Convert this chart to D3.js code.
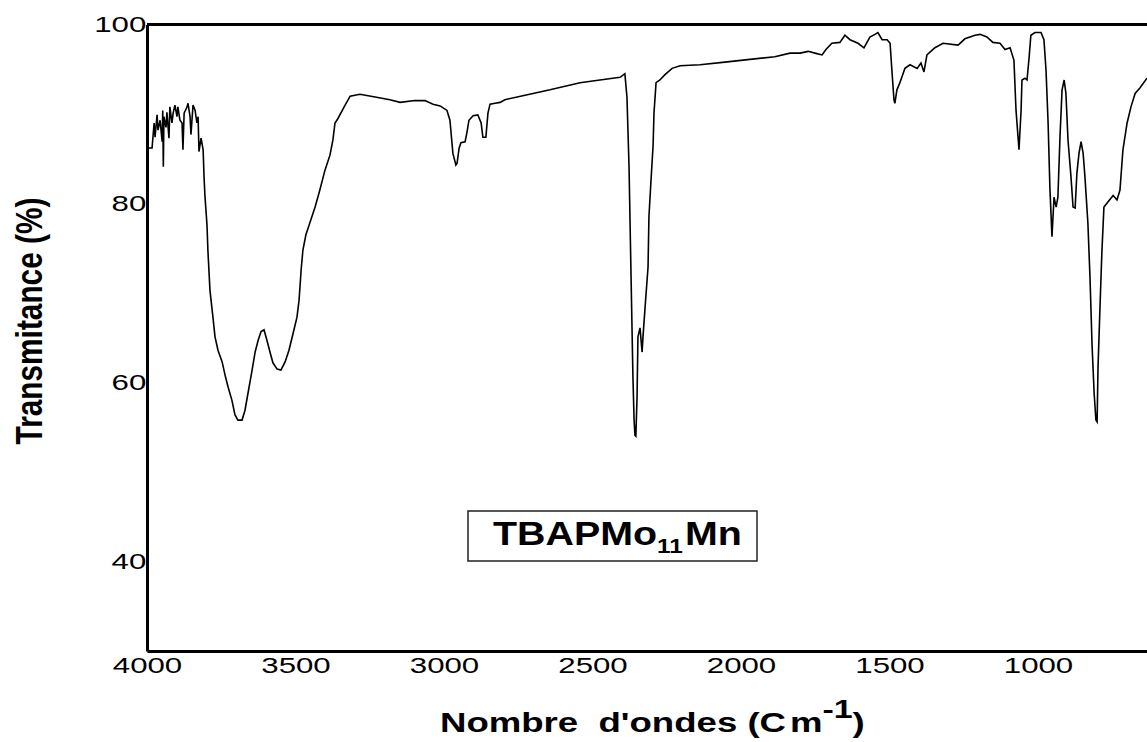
<!DOCTYPE html>
<html lang="fr">
<head>
<meta charset="UTF-8">
<title>TBAPMo11Mn IR</title>
<script src="https://d3js.org/d3.v7.min.js"></script>
<style>
  body { margin: 0; background: #fff; }
  svg { display: block; font-family: "Liberation Sans", Arial, sans-serif; }
</style>
</head>
<body>
<svg width="1147" height="742"></svg>
<script>
// wavenumbers (cm-1) and transmittance (%)
const wavenumber = [4000, 3998, 3983, 3976, 3973, 3966, 3963, 3956, 3949, 3947, 3945, 3943, 3936, 3933, 3926, 3923, 3916, 3912, 3906, 3899, 3896, 3889, 3882, 3879, 3875, 3865, 3862, 3855, 3852, 3845, 3838, 3832, 3828, 3825, 3818, 3811, 3808, 3805, 3798, 3795, 3788, 3778, 3771, 3761, 3747, 3737, 3727, 3714, 3704, 3694, 3680, 3670, 3660, 3646, 3636, 3626, 3616, 3606, 3596, 3586, 3576, 3562, 3549, 3535, 3522, 3508, 3495, 3488, 3481, 3475, 3465, 3451, 3434, 3418, 3401, 3384, 3374, 3367, 3357, 3333, 3316, 3283, 3232, 3182, 3148, 3098, 3064, 3037, 3013, 2990, 2980, 2970, 2960, 2956, 2949, 2943, 2929, 2923, 2916, 2902, 2886, 2875, 2869, 2859, 2852, 2845, 2828, 2811, 2795, 2727, 2643, 2542, 2475, 2407, 2391, 2384, 2377, 2370, 2364, 2360, 2357, 2354, 2350, 2347, 2340, 2333, 2330, 2323, 2313, 2310, 2303, 2296, 2293, 2286, 2273, 2256, 2232, 2205, 2138, 2054, 1970, 1886, 1835, 1801, 1774, 1751, 1727, 1714, 1694, 1667, 1650, 1633, 1606, 1586, 1566, 1549, 1539, 1525, 1508, 1498, 1492, 1485, 1482, 1475, 1465, 1448, 1431, 1407, 1394, 1384, 1374, 1347, 1320, 1269, 1246, 1212, 1195, 1172, 1152, 1128, 1111, 1094, 1081, 1074, 1064, 1057, 1054, 1044, 1037, 1030, 1024, 1010, 990, 980, 973, 966, 960, 953, 946, 939, 933, 926, 919, 912, 906, 899, 889, 882, 875, 869, 862, 855, 848, 842, 832, 825, 818, 811, 805, 801, 798, 791, 785, 778, 764, 747, 734, 724, 714, 700, 687, 673, 657, 633];
const transmittance = [83.4, 86.2, 86.2, 89.0, 87.4, 89.9, 88.2, 89.3, 86.9, 90.4, 84.1, 89.7, 88.5, 90.2, 87.3, 90.8, 89.0, 90.1, 91.0, 89.7, 90.8, 89.3, 89.0, 86.0, 90.1, 90.8, 91.2, 89.7, 87.7, 91.0, 90.4, 89.0, 89.7, 85.8, 87.3, 86.0, 83.0, 80.9, 77.6, 74.8, 70.3, 67.3, 65.1, 63.6, 62.3, 60.8, 59.5, 58.0, 56.4, 55.8, 55.8, 56.9, 58.8, 61.4, 63.4, 64.7, 65.7, 65.9, 64.7, 63.4, 62.2, 61.5, 61.4, 62.3, 63.6, 65.5, 67.3, 69.2, 72.6, 74.8, 76.5, 77.9, 79.6, 81.5, 83.7, 85.4, 87.1, 89.0, 89.5, 91.0, 92.0, 92.2, 91.9, 91.6, 91.3, 91.5, 91.5, 91.1, 90.9, 90.4, 89.3, 85.6, 84.3, 84.5, 86.2, 86.8, 86.9, 87.9, 89.3, 89.8, 89.9, 89.0, 87.4, 87.4, 90.1, 91.1, 91.2, 91.3, 91.6, 92.1, 92.7, 93.5, 93.8, 94.1, 94.5, 91.9, 84.1, 71.5, 60.8, 55.8, 54.1, 54.0, 58.4, 65.1, 66.1, 63.4, 65.1, 68.4, 72.9, 78.5, 82.6, 86.5, 90.1, 93.5, 93.8, 94.4, 95.1, 95.4, 95.5, 95.8, 96.1, 96.4, 96.8, 96.8, 97.0, 96.8, 96.6, 97.2, 97.9, 98.0, 98.8, 98.3, 97.9, 97.4, 98.6, 98.9, 99.1, 98.3, 98.3, 97.9, 94.9, 91.6, 91.2, 92.7, 93.5, 95.1, 95.5, 95.1, 95.7, 94.7, 96.6, 97.4, 97.9, 97.7, 98.4, 98.8, 98.9, 98.6, 98.0, 97.9, 97.2, 97.4, 96.0, 90.4, 86.0, 90.4, 93.8, 94.0, 93.8, 96.3, 98.8, 99.1, 99.1, 98.3, 94.9, 89.0, 81.8, 76.3, 80.7, 79.6, 80.7, 87.4, 92.7, 93.8, 92.3, 87.1, 83.0, 79.6, 79.5, 83.4, 85.6, 86.9, 85.6, 83.0, 77.8, 71.8, 64.2, 58.8, 55.8, 55.6, 61.6, 68.7, 74.5, 79.6, 80.2, 80.9, 80.4, 81.5, 86.0, 89.0, 90.8, 92.3, 92.9, 94.0];

const xTicks = [4000, 3500, 3000, 2500, 2000, 1500, 1000];
const yTicks = [40, 60, 80, 100];
const xDomain = [4000, 633];
const yDomain = [30, 100];
const sampleName = "TBAPMo";
const sampleSub = "11";
const sampleEnd = "Mn";

const svg = d3.select("svg");
const plotLeft = 147, plotRight = 1147, plotTop = 24.5, plotBottom = 651;

const x = d3.scaleLinear().domain(xDomain).range([plotLeft, plotRight]);
const y = d3.scaleLinear().domain(yDomain).range([plotBottom, plotTop]);

svg.append("clipPath").attr("id", "plotClip")
    .append("rect")
    .attr("x", plotLeft).attr("y", plotTop)
    .attr("width", plotRight - plotLeft).attr("height", plotBottom - plotTop);

// spectrum
const points = wavenumber.map((w, i) => [w, transmittance[i]]);
const line = d3.line()
    .x(d => x(d[0]))
    .y(d => y(d[1]));

svg.append("path")
    .datum(points)
    .attr("clip-path", "url(#plotClip)")
    .attr("fill", "none")
    .attr("stroke", "#000")
    .attr("stroke-width", 1.6)
    .attr("d", line);

// axes
const xAxis = svg.append("g")
    .attr("transform", `translate(0,${plotBottom})`)
    .call(d3.axisBottom(x).tickValues(xTicks).tickSize(0).tickPadding(6).tickFormat(d3.format("d")));
const yAxis = svg.append("g")
    .attr("transform", `translate(${plotLeft},0)`)
    .call(d3.axisLeft(y).tickValues(yTicks).tickSize(0).tickPadding(0.5).tickFormat(d3.format("d")));

[xAxis, yAxis].forEach(g => {
    g.select(".domain").attr("stroke", "#000").attr("stroke-width", 3);
    g.selectAll("text")
        .attr("fill", "#000")
        .style("font-size", "22px")
        .attr("transform", "scale(1.42,1)");
});
yAxis.selectAll("text").attr("x", -0.5);

// top frame line
svg.append("line")
    .attr("x1", plotLeft).attr("x2", plotRight)
    .attr("y1", plotTop).attr("y2", plotTop)
    .attr("stroke", "#000").attr("stroke-width", 3);

// x axis title
const xTitle = svg.append("text")
    .attr("font-weight", "bold")
    .style("font-size", "28px")
    .style("white-space", "pre")
    .attr("fill", "#000");
xTitle.append("tspan").text("Nombre  d'ondes (C");
xTitle.append("tspan").attr("dx", 3).text("m");
xTitle.append("tspan").attr("dy", -14).style("font-size", "26px").text("-1");
xTitle.append("tspan").attr("dy", 14).text(")");
const xw = xTitle.node().getBBox().width;
xTitle.attr("transform", `translate(440,732) scale(${425 / xw},1)`);

// y axis title
const yTitle = svg.append("text")
    .attr("font-weight", "bold")
    .style("font-size", "28px")
    .attr("text-anchor", "middle")
    .attr("fill", "#000")
    .text("Transmitance (%)");
const yl = yTitle.node().getComputedTextLength();
yTitle.attr("transform", `translate(42,321) scale(1.34,${247 / yl}) rotate(-90)`);

// sample label box
svg.append("rect")
    .attr("x", 468).attr("y", 511)
    .attr("width", 289).attr("height", 50)
    .attr("fill", "#fff")
    .attr("stroke", "#222")
    .attr("stroke-width", 1.5);

const label = svg.append("text")
    .attr("font-weight", "bold")
    .style("font-size", "34px")
    .attr("fill", "#000");
label.append("tspan").text(sampleName);
label.append("tspan").attr("dy", 8).style("font-size", "21px").text(sampleSub);
label.append("tspan").attr("dy", -8).attr("dx", 2).text(sampleEnd);
const lw = label.node().getBBox().width;
label.attr("transform", `translate(493,545) scale(${249 / lw},1)`);
</script>
</body>
</html>
